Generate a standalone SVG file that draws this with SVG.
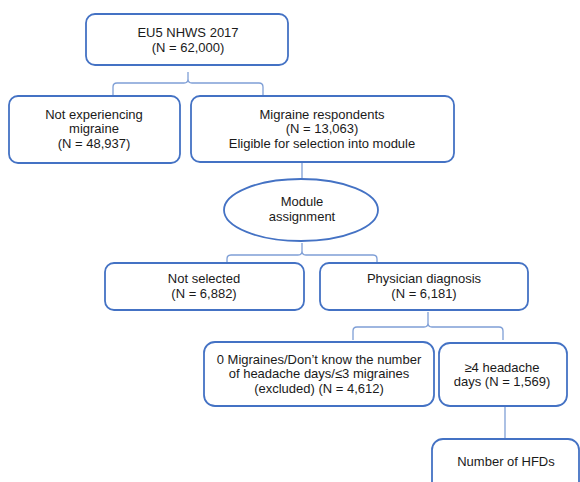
<svg xmlns="http://www.w3.org/2000/svg" width="580" height="482" viewBox="0 0 580 482">
<style>
.box{fill:#fff;stroke:#4472C4;stroke-width:1.8}
.con{fill:none;stroke:#7f9fd6;stroke-width:1.3}
text{font-family:"Liberation Sans",Arial,sans-serif;font-size:13px;fill:#1a1a1a;text-anchor:middle}
</style>
<rect width="580" height="482" fill="#fff"/>
<g id="connectors">
<path class="con" d="M113,95 V87 Q113,83 117,83 H184 Q188,83 188,79 V72 M188,79 Q188,83 192,83 H259 Q263,83 263,87 V95"/>
<path class="con" d="M302,162 V179"/>
<path class="con" d="M227,262 V259 Q227,255 231,255 H298 Q302,255 302,251 V243 M302,251 Q302,255 306,255 H373 Q377,255 377,259 V262"/>
<path class="con" d="M353,340 V331 Q353,327 357,327 H424 Q428,327 428,323 V312 M428,323 Q428,327 432,327 H499 Q503,327 503,331 V340"/>
<path class="con" d="M505,406 V438"/>
</g>
<g id="n_total">
<rect class="box" x="86" y="14" width="202" height="51" rx="9"/>
<text x="188" y="37">EU5 NHWS 2017</text>
<text x="188" y="52">(N = 62,000)</text>
</g>
<g id="n_notmig">
<rect class="box" x="9" y="96" width="171" height="67" rx="9"/>
<text x="94" y="119">Not experiencing</text>
<text x="94" y="133">migraine</text>
<text x="94" y="148">(N = 48,937)</text>
</g>
<g id="n_mig">
<rect class="box" x="191" y="96" width="263" height="66" rx="9"/>
<text x="322" y="119">Migraine respondents</text>
<text x="322" y="133">(N = 13,063)</text>
<text x="322" y="148">Eligible for selection into module</text>
</g>
<g id="n_module">
<ellipse class="box" cx="301" cy="210" rx="77" ry="31"/>
<text x="302" y="206">Module</text>
<text x="302" y="221">assignment</text>
</g>
<g id="n_notsel">
<rect class="box" x="105" y="263" width="199" height="47" rx="9"/>
<text x="204" y="283">Not selected</text>
<text x="204" y="298">(N = 6,882)</text>
</g>
<g id="n_phys">
<rect class="box" x="320" y="263" width="208" height="47" rx="9"/>
<text x="424" y="283">Physician diagnosis</text>
<text x="424" y="298">(N = 6,181)</text>
</g>
<g id="n_excl">
<rect class="box" x="204" y="342" width="230" height="64" rx="11"/>
<text x="319" y="364">0 Migraines/Don’t know the number</text>
<text x="319" y="378">of headache days/≤3 migraines</text>
<text x="319" y="393">(excluded) (N = 4,612)</text>
</g>
<g id="n_ge4">
<rect class="box" x="439" y="343" width="128" height="63" rx="11"/>
<text x="502" y="372">≥4 headache</text>
<text x="502" y="386">days (N = 1,569)</text>
</g>
<g id="n_hfd">
<rect class="box" x="432" y="439" width="147" height="60" rx="11"/>
<text x="506" y="466">Number of HFDs</text>
</g>
</svg>
